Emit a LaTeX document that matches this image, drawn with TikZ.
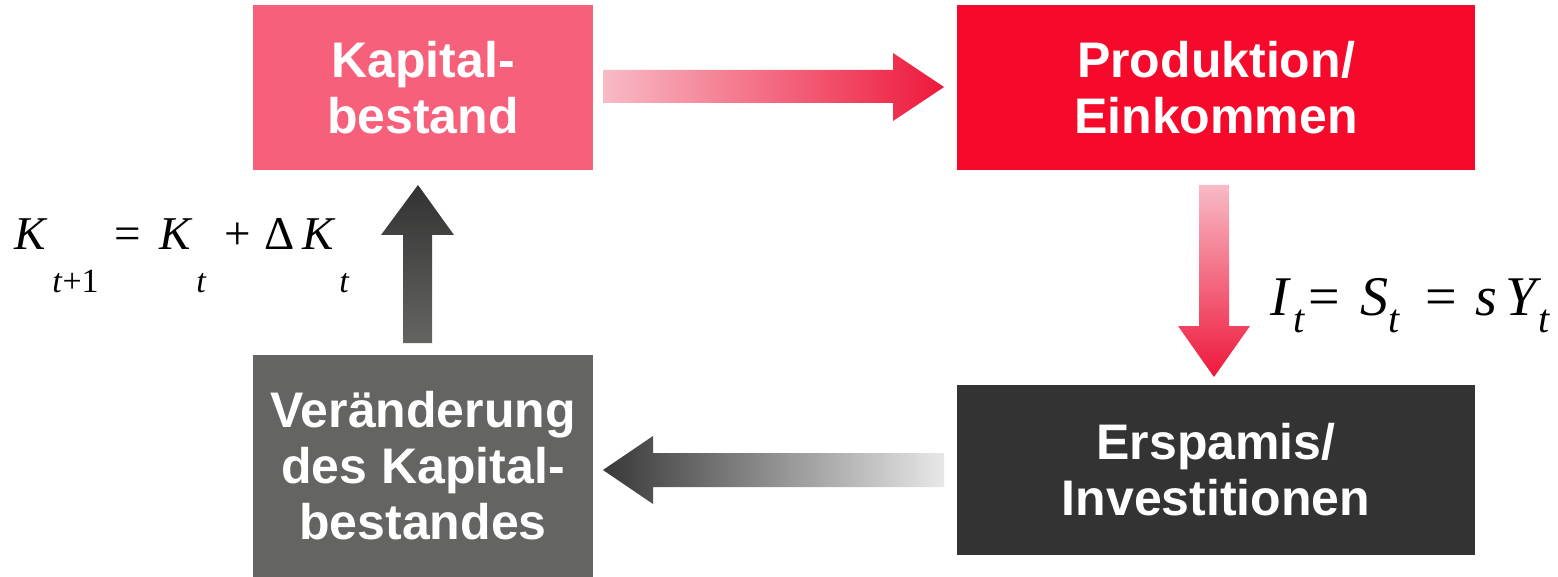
\documentclass[tikz,border=0pt]{standalone}
\usepackage{fontspec}
\setmainfont{Liberation Serif}
\setsansfont{Liberation Sans}
\definecolor{kapcol}{HTML}{F7607A}
\definecolor{prodcol}{HTML}{F60A2C}
\definecolor{erspcol}{HTML}{333333}
\definecolor{vercol}{HTML}{646462}
\definecolor{pinklight}{HTML}{F8BAC6}
\definecolor{pinkdark}{HTML}{EE183B}
\definecolor{greydark}{HTML}{383838}
\definecolor{greylight}{HTML}{E8E8E8}
\newcommand{\pc}[2]{\makebox[#1][l]{#2}}
\newcommand{\subA}[1]{\raisebox{-21pt}{\fontsize{17}{20}\selectfont #1}}
\newcommand{\subB}[1]{\raisebox{-8.5pt}{\fontsize{20}{24}\selectfont #1}}
\begin{document}
\begin{tikzpicture}[x=0.5pt,y=-0.5pt,
  box/.style={rectangle, inner sep=0pt, text=white, align=center,
    font=\sffamily\bfseries\fontsize{25}{28}\selectfont},
  eqn/.style={inner sep=0pt, anchor=base west}]
\useasboundingbox (0,0) rectangle (1558,577);
% boxes
\node[box, fill=kapcol, minimum width=170pt, minimum height=82.5pt] (kap) at (423,87.5) {Kapital-\\bestand};
\node[box, fill=prodcol, minimum width=259pt, minimum height=82.5pt] (prod) at (1216,87.5) {Produktion/\\Einkommen};
\node[box, fill=erspcol, minimum width=259pt, minimum height=85pt] (ersp) at (1216,470) {Erspamis/\\Investitionen};
\node[box, fill=vercol, minimum width=170pt, minimum height=111pt] (ver) at (423,466) {Ver\"anderung\\des Kapital-\\bestandes};
% arrows
\shade[left color=pinklight, right color=pinkdark]
  (603,70) -- (893,70) -- (893,53) -- (944,87) -- (893,121) -- (893,103) -- (603,103) -- cycle;
\shade[top color=pinklight, bottom color=pinkdark]
  (1199,185) -- (1229,185) -- (1229,326) -- (1250,326) -- (1214,377) -- (1178,326) -- (1199,326) -- cycle;
\shade[left color=greydark, right color=greylight]
  (603,470) -- (653,436) -- (653,453) -- (944,453) -- (944,487) -- (653,487) -- (653,504) -- cycle;
\shade[top color=greydark!90!black, bottom color=vercol]
  (418,185) -- (454,235) -- (432,235) -- (432,343) -- (403,343) -- (403,235) -- (381,235) -- cycle;
% equations
\node[eqn] (eqK) at (14,250) {\fontsize{23.5}{28}\selectfont
  \pc{19pt}{\textit{K}}\pc{31pt}{\subA{\textit{t}+1}}\pc{22.5pt}{=}%
  \pc{18.5pt}{\textit{K}}\pc{14pt}{\subA{\textit{t}}}\pc{20pt}{+}%
  \pc{19pt}{\symbol{"0394}}\pc{18.5pt}{\textit{K}}\subA{\textit{t}}};
\node[eqn] (eqI) at (1270,315) {\fontsize{28}{33}\selectfont
  \pc{11.5pt}{\textit{I}}\pc{7.5pt}{\subB{\textit{t}}}\pc{26pt}{=}%
  \pc{14pt}{\textit{S}}\pc{18.5pt}{\subB{\textit{t}}}\pc{25pt}{=}%
  \pc{15pt}{\textit{s}}\pc{16.5pt}{\textit{Y}}\subB{\textit{t}}};
\end{tikzpicture}
\end{document}
